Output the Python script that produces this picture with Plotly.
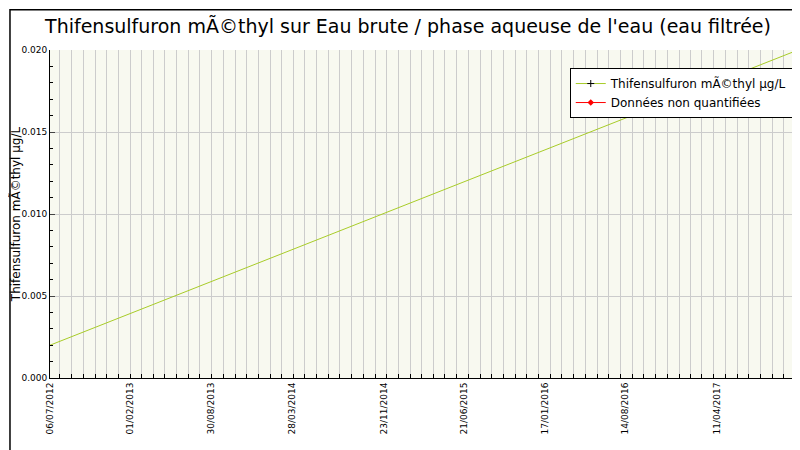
import plotly.graph_objects as go

dates = ["2012-07-06", "2017-11-07"]
values = [0.002, 0.02]
nq_dates = ["2017-11-07"]
nq_values = [0.02]
tick_dates = ["2012-07-06","2013-02-01","2013-08-30","2014-03-28","2014-11-23",
              "2015-06-21","2016-01-17","2016-08-14","2017-04-11","2017-11-07"]
tick_labels = ["06/07/2012","01/02/2013","30/08/2013","28/03/2014","23/11/2014",
               "21/06/2015","17/01/2016","14/08/2016","11/04/2017","07/11/2017"]
title = "Thifensulfuron mÃ©thyl sur Eau brute / phase aqueuse de l'eau (eau filtrée)"
ylab = "Thifensulfuron mÃ©thyl µg/L"

fig = go.Figure()
fig.add_trace(go.Scatter(x=dates, y=values, mode="lines", line=dict(color="#a8cc28", width=1),
                         showlegend=False))
fig.add_trace(go.Scatter(x=[None], y=[None], mode="lines+markers",
                         line=dict(color="#a8cc28", width=1),
                         marker=dict(symbol="cross-thin", color="black", size=5, line=dict(color="black", width=1)),
                         name="Thifensulfuron mÃ©thyl µg/L"))
fig.add_trace(go.Scatter(x=nq_dates, y=nq_values, mode="lines+markers", cliponaxis=False,
                         line=dict(color="red", width=1),
                         marker=dict(symbol="diamond", color="red", size=5),
                         name="Données non quantifiées"))

fig.update_layout(
    width=800, height=450, paper_bgcolor="white", plot_bgcolor="#f8f9f0",
    margin=dict(l=42, r=10, t=42, b=80, autoexpand=False),
    font=dict(family="DejaVu Sans", size=11, color="black"),
    title=dict(text=title, x=0.5, xanchor="center", y=0.975, font=dict(size=19)),
    legend=dict(x=0.993, xanchor="right", y=0.945, yanchor="top", bgcolor="white",
                bordercolor="black", borderwidth=1, font=dict(size=12)),
    xaxis=dict(type="date", range=["2012-07-06", "2017-11-07"], tickvals=tick_dates,
               ticktext=tick_labels, tickangle=-90, tickfont=dict(size=9), automargin=False,
               showgrid=False, showline=True, linecolor="black", ticks="outside", ticklen=0,
               minor=dict(dtick="M1", showgrid=True, gridcolor="#cccccc", ticks="inside", ticklen=4, tickcolor="black"),
               zeroline=False),
    yaxis=dict(range=[0, 0.02], dtick=0.005, tickformat=".3f", tickfont=dict(size=9), automargin=False,
               showgrid=True, gridcolor="#cccccc", showline=True, linecolor="black",
               ticks="inside", ticklen=5, title=dict(text=ylab, font=dict(size=12), standoff=0),
               minor=dict(dtick=0.001, ticks="inside", ticklen=3, tickcolor="black"),
               zeroline=False),
)
fig.add_shape(type="rect", xref="paper", yref="paper", x0=-0.0535, x1=1.0118, y0=-0.239, y1=1.123,
              line=dict(color="black", width=1.5))
fig.write_html("out.html")
